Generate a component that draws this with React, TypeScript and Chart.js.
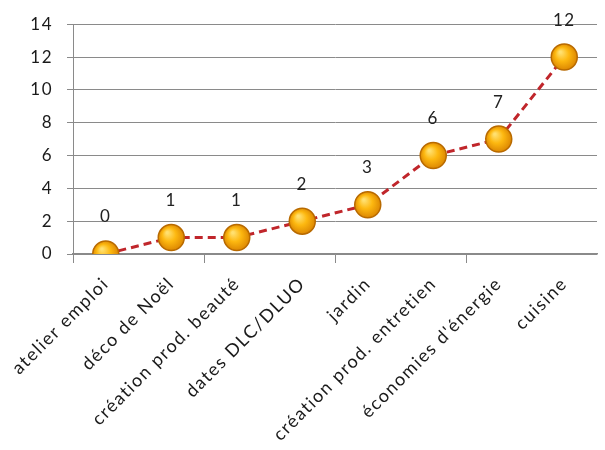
import React, { useEffect, useRef } from "react";
import { Chart, registerables } from "chart.js";

Chart.register(...registerables);

const categories = [
  "atelier emploi",
  "déco de Noël",
  "création prod. beauté",
  "dates DLC/DLUO",
  "jardin",
  "création prod. entretien",
  "économies d'énergie",
  "cuisine",
];
const values = [0, 1, 1, 2, 3, 6, 7, 12];
const yTicks = [0, 2, 4, 6, 8, 10, 12, 14];

const FONT = "Lato, 'Open Sans', sans-serif";

const spacing = {
  id: "spacing",
  beforeUpdate(chart: any) {
    chart.ctx.letterSpacing = "1.5px";
  },
  beforeLayout(chart: any) {
    chart.ctx.letterSpacing = "1.5px";
  },
  beforeDraw(chart: any) {
    chart.ctx.letterSpacing = "1.5px";
  },
};

const valueLabels = {
  id: "valueLabels",
  afterDatasetsDraw(chart: any) {
    const c = chart.ctx;
    const meta = chart.getDatasetMeta(0);
    c.save();
    c.font = `17px ${FONT}`;
    c.fillStyle = "#222";
    c.textAlign = "center";
    c.textBaseline = "middle";
    meta.data.forEach((el: any, i: number) => {
      c.fillText(String(values[i]), el.x, el.y - 37);
    });
    c.restore();
  },
};

export default function App() {
  const ref = useRef<HTMLCanvasElement>(null);
  useEffect(() => {
    const canvas = ref.current!;
    const chart = new Chart(canvas, {
      type: "line",
      data: {
        labels: categories,
        datasets: [
          {
            data: values,
            borderColor: "#C0262B",
            borderWidth: 3,
            borderDash: [8, 5],
            fill: false,
            tension: 0,
            pointRadius: 13,
            pointHoverRadius: 13,
            pointBorderWidth: 1.5,
            pointBorderColor: "#B86A00",
            pointBackgroundColor: (ctx: any) => {
              const el = ctx.element;
              const c = ctx.chart.ctx;
              if (!el || el.x == null || isNaN(el.x)) return "#F5A300";
              const g = c.createRadialGradient(el.x - 4, el.y - 5, 1, el.x, el.y, 14);
              g.addColorStop(0, "#FFE070");
              g.addColorStop(0.45, "#FDB810");
              g.addColorStop(1, "#D98200");
              return g;
            },
          },
        ],
      },
      options: {
        animation: false,
        responsive: false,
        maintainAspectRatio: false,
        layout: { autoPadding: false, padding: { top: 24, right: 8, left: 0, bottom: 0 } },
        plugins: { legend: { display: false }, tooltip: { enabled: false } },
        scales: {
          x: {
            offset: true,
            grid: {
              offset: true,
              drawOnChartArea: false,
              tickLength: 9,
              color: (ctx: any) => (ctx.index % 2 === 0 ? "#8a8a8a" : "rgba(0,0,0,0)"),
            },
            border: { color: "#8a8a8a", width: 1.5 },
            ticks: {
              maxRotation: 45,
              minRotation: 45,
              autoSkip: false,
              color: "#1a1a1a",
              font: { family: FONT, size: 18 },
              padding: 10,
            },
            afterFit: (scale: any) => {
              scale.height = 196;
              scale.paddingRight = 0;
              scale.paddingLeft = 0;
            },
          },
          y: {
            min: 0,
            max: 14,
            afterBuildTicks: (scale: any) => {
              scale.ticks = yTicks.map((v) => ({ value: v }));
            },
            grid: {
              color: "#8a8a8a",
              lineWidth: 1,
              tickLength: 6,
            },
            border: { color: "#8a8a8a", width: 1 },
            ticks: {
              color: "#1a1a1a",
              font: { family: FONT, size: 17 },
              padding: 14,
            },
            afterFit: (scale: any) => {
              scale.width = 73;
            },
          },
        },
      },
      plugins: [spacing, valueLabels],
    });
    return () => chart.destroy();
  }, []);
  return (
    <div style={{ position: "fixed", left: 0, top: 0, width: 605, height: 450, background: "#fff" }}>
      <canvas ref={ref} width={605} height={450} style={{ width: 605, height: 450 }} />
    </div>
  );
}
